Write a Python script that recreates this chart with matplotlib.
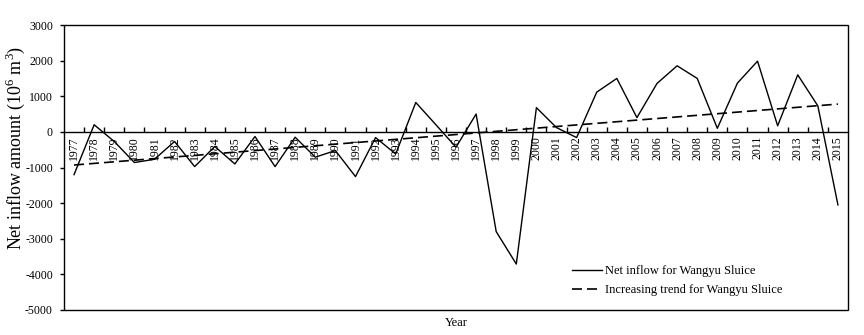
import matplotlib
matplotlib.use('Agg')
import matplotlib.pyplot as plt
from matplotlib.patches import Rectangle
import numpy as np

plt.rcParams['font.family'] = ['Liberation Serif', 'DejaVu Serif']
plt.rcParams['mathtext.fontset'] = 'custom'
plt.rcParams['mathtext.rm'] = 'Liberation Serif'

# Data
years = list(range(1977, 2016))
net_inflow = [-1200, 200, -270, -860, -770, -270, -975, -410, -900, -130,
              -975, -150, -710, -525, -1255, -160, -620, 825, 200, -430,
              500, -2800, -3710, 680, 120, -160, 1115, 1500, 400, 1360,
              1855, 1500, 100, 1370, 1985, 170, 1600, 730, -2050]
# trend line end points (1977 and 2015)
trend_years = [1977, 2015]
trend_values = [-930, 780]

y_ticks = [-5000, -4000, -3000, -2000, -1000, 0, 1000, 2000, 3000]

fig = plt.figure(figsize=(8.64, 3.35), dpi=100)
ax = fig.add_axes([64 / 864, 1 - 310 / 335, (848 - 64) / 864, (310 - 25) / 335])

x = np.arange(len(years))
x_trend = [years.index(y) for y in trend_years]

ax.plot(x, net_inflow, color='black', lw=1.0, label='Net inflow for Wangyu Sluice')
ax.plot(x_trend, trend_values, color='black', lw=1.2, linestyle=(0, (6, 3)),
        label='Increasing trend for Wangyu Sluice')

ax.set_xlim(-0.5, len(years) - 0.5)
ax.set_ylim(-5000, 3000)

# x axis sits at zero, ticks between categories pointing up
ax.spines['bottom'].set_position(('data', 0))
ax.spines['bottom'].set_linewidth(1.0)
for s in ['top', 'right', 'left']:
    ax.spines[s].set_visible(False)
ax.add_patch(Rectangle((0, 0), 1, 1, transform=ax.transAxes, fill=False,
                       edgecolor='black', lw=1.0, clip_on=False))

ax.set_xticks(x)
ax.set_xticklabels([str(y) for y in years], rotation=90, fontsize=8.5)
ax.set_xticks(np.arange(0.5, len(years) - 1, 1.0), minor=True)
ax.tick_params(axis='x', which='major', length=0, pad=3)
ax.tick_params(axis='x', which='minor', direction='in', length=3.5, width=1.0)

ax.set_yticks(y_ticks)
ax.set_yticklabels([str(v) for v in y_ticks], fontsize=8.5)
ax.tick_params(axis='y', direction='out', length=3, width=1.0, pad=5)

fig.text(456 / 864, 1 - 323 / 335, 'Year', ha='center', va='center', fontsize=9)
fig.text(15 / 864, 1 - 148 / 335, r'Net inflow amount (10$^6$ m$^3$)',
         rotation=90, ha='center', va='center', fontsize=13)

ax.legend(loc='upper left', bbox_to_anchor=(572 / 864, 1 - 265 / 335),
          bbox_transform=fig.transFigure, frameon=False, fontsize=9,
          handlelength=2.4, handletextpad=0.25, labelspacing=0.6,
          borderpad=0, borderaxespad=0)

fig.savefig('out.png', dpi=100)
